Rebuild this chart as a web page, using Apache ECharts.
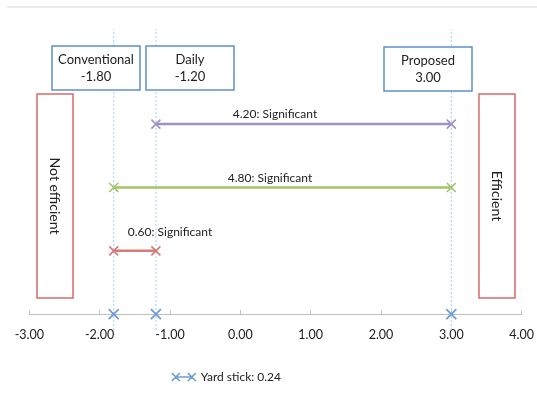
<!DOCTYPE html>
<html>
<head>
<meta charset="utf-8">
<script src="https://cdn.jsdelivr.net/npm/echarts@6/dist/echarts.min.js"></script>
<style>html,body{margin:0;padding:0;background:#fff;}#c{width:537px;height:408px;}</style>
</head>
<body>
<div id="c"></div>
<script>
// ---- data ----
const methods = ['Conventional', 'Daily', 'Proposed'];
const methodScores = [-1.80, -1.20, 3.00];
const compFrom = [-1.20, -1.80, -1.80];
const compTo = [3.00, 3.00, -1.20];
const compDiff = [4.20, 4.80, 0.60];
const compLevel = [3, 2, 1];
const compVerdict = ['Significant', 'Significant', 'Significant'];
const yardStick = 0.24;
const xTicks = [-3, -2, -1, 0, 1, 2, 3, 4];
const zoneLabels = ['Not efficient', 'Efficient'];

const compColors = ['#a48fc6', '#a2c466', '#d77b78'];
const blue = '#6e9dd3';
const xMark = 'path://M0,0L10,10M10,0L0,10';
const font = 'Lato, "Open Sans", sans-serif';

const chart = echarts.init(document.getElementById('c'));
const series = [];

// dotted drop lines at each method score
methodScores.forEach(function (v) {
  series.push({
    type: 'line', silent: true, symbol: 'none', z: 1, clip: false,
    data: [[v, -0.25], [v, 4.5]],
    lineStyle: { color: '#9fd3ea', width: 1, type: [2, 2] }
  });
});

// comparison lines
compFrom.forEach(function (f, i) {
  series.push({
    type: 'line', silent: true, z: 3, clip: false,
    symbol: xMark, symbolSize: 9,
    data: [[f, compLevel[i]], [compTo[i], compLevel[i]]],
    lineStyle: { color: compColors[i], width: 2.5 },
    itemStyle: { color: compColors[i], borderColor: compColors[i], borderWidth: 1.6 }
  });
});

// yard stick markers on the axis
series.push({
  name: 'Yard stick: ' + yardStick.toFixed(2),
  type: 'line', z: 4, clip: false,
  symbol: xMark, symbolSize: 10,
  data: methodScores.map(function (v) { return [v, 0]; }),
  lineStyle: { opacity: 0, width: 0 },
  itemStyle: { color: blue, borderColor: blue, borderWidth: 1.8 }
});

// annotation graphics
const graphics = [
  { type: 'line', z: 0, shape: { x1: 7, y1: 7, x2: 537, y2: 7 }, style: { stroke: '#d9d9d9', lineWidth: 1 } }
];
const boxes = [
  { x: 52, y: 46, w: 88, h: 44 },
  { x: 146, y: 46, w: 88, h: 44 },
  { x: 384, y: 47, w: 88, h: 44 }
];
methods.forEach(function (m, i) {
  const b = boxes[i];
  graphics.push({ type: 'rect', z: 100, shape: { x: b.x, y: b.y, width: b.w, height: b.h },
    style: { fill: '#fff', stroke: '#5d8fcf', lineWidth: 1.5 } });
  graphics.push({ type: 'text', z: 101, x: b.x + b.w / 2, y: b.y + b.h / 2 + 0.5,
    style: { text: m + '\n' + methodScores[i].toFixed(2), align: 'center', verticalAlign: 'middle',
      font: '13px ' + font, lineHeight: 17, fill: '#222' } });
});
const zones = [
  { x: 37, y: 94, w: 36, h: 204 },
  { x: 479, y: 94, w: 36, h: 204 }
];
zoneLabels.forEach(function (t, i) {
  const z = zones[i];
  graphics.push({ type: 'rect', z: 100, shape: { x: z.x, y: z.y, width: z.w, height: z.h },
    style: { fill: 'rgba(255,255,255,0)', stroke: '#d66a6a', lineWidth: 1.5 } });
  graphics.push({ type: 'text', z: 101, x: z.x + z.w / 2, y: z.y + z.h / 2, rotation: -Math.PI / 2,
    style: { text: t, align: 'center', verticalAlign: 'middle', font: '14px ' + font, fill: '#222' } });
});
const compLabelPos = [[275, 114], [270, 178], [170, 232]];
compDiff.forEach(function (d, i) {
  graphics.push({ type: 'text', z: 101, x: compLabelPos[i][0], y: compLabelPos[i][1],
    style: { text: d.toFixed(2) + ': ' + compVerdict[i], align: 'center', verticalAlign: 'middle',
      font: '12px ' + font, fill: '#222' } });
});

chart.setOption({
  animation: false,
  backgroundColor: '#fff',
  grid: { left: 29.3, right: 12.7, top: 29, bottom: 93.8, containLabel: false },
  xAxis: {
    type: 'value', min: xTicks[0], max: xTicks[xTicks.length - 1], interval: 1,
    axisLine: { onZero: false, lineStyle: { color: '#bfbfbf', width: 1 } },
    axisTick: { show: true, inside: true, length: 4, lineStyle: { color: '#bfbfbf' } },
    axisLabel: { formatter: function (v) { return v.toFixed(2); }, color: '#222', fontSize: 12.5,
      fontFamily: font, margin: 14 },
    splitLine: { show: false }
  },
  yAxis: { type: 'value', min: 0, max: 4.5, show: false, splitLine: { show: false } },
  legend: {
    data: [{ name: 'Yard stick: ' + yardStick.toFixed(2),
      icon: 'path://M0,0L8,8M0,8L8,0M4,4L20,4M16,0L24,8M16,8L24,0',
      itemStyle: { color: 'rgba(0,0,0,0)', borderColor: blue, borderWidth: 1.6 } }],
    left: 166, top: 366, itemWidth: 24, itemHeight: 9, itemGap: 12,
    textStyle: { color: '#222', fontSize: 12, fontFamily: font }
  },
  series: series,
  graphic: graphics
});
</script>
</body>
</html>
